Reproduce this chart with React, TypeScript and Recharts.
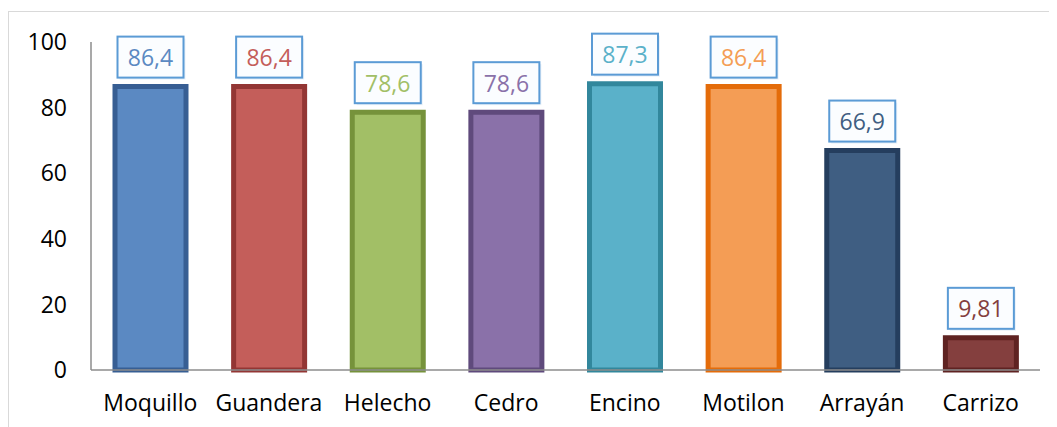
import React from "react";
import { BarChart, Bar, XAxis, YAxis, Cell, LabelList } from "recharts";

const categories = ["Moquillo", "Guandera", "Helecho", "Cedro", "Encino", "Motilon", "Arrayán", "Carrizo"];
const values = [86.4, 86.4, 78.6, 78.6, 87.3, 86.4, 66.9, 9.81];
const valueLabels = ["86,4", "86,4", "78,6", "78,6", "87,3", "86,4", "66,9", "9,81"];
const fills = ["#5b89c2", "#c45e5a", "#a2bf66", "#8a71a9", "#5ab1c9", "#f49d55", "#3f5e82", "#843f3e"];
const strokes = ["#375e93", "#933634", "#76923b", "#5f4a7c", "#32879c", "#e46c0a", "#253e5e", "#5f2322"];
const yTicks = [0, 20, 40, 60, 80, 100];

const data = categories.map((name, i) => ({ name, value: values[i], label: valueLabels[i] }));

const FONT = "Open Sans, sans-serif";

const ValueLabel = (props: any) => {
  const { x, y, width, index } = props;
  const cx = x + width / 2;
  const bw = 66;
  const bh = 41;
  const bottom = y - 9;
  return (
    <g>
      <rect x={cx - bw / 2 + 2} y={bottom - bh + 2} width={bw} height={bh} fill="#dbe8f5" opacity={0.6} />
      <rect x={cx - bw / 2} y={bottom - bh} width={bw} height={bh} fill="#fbfdff" stroke="#5b9bd5" strokeWidth={2} />
      <text x={cx} y={bottom - bh / 2} textAnchor="middle" dominantBaseline="central" fontSize={23} fontFamily={FONT} fill={fills[index]}>
        {valueLabels[index]}
      </text>
    </g>
  );
};

export default function App() {
  return (
    <div style={{ position: "relative", width: 1049, height: 419, overflow: "hidden", background: "#fff" }}>
      <div style={{ position: "absolute", left: 0, top: 3, width: 1060, height: 430, border: "1px solid #d9d9d9", boxSizing: "border-box" }} />
      <BarChart
        width={1049}
        height={419}
        data={data}
        margin={{ top: 34, right: 17, left: 0, bottom: 0 }}
        barCategoryGap={0}
      >
        <XAxis
          dataKey="name"
          height={57}
          tickLine={false}
          axisLine={{ stroke: "#8c8c8c", strokeWidth: 1.5 }}
          tickSize={0}
          tickMargin={25}
          tick={{ fontSize: 23, fontFamily: FONT, fill: "#000" }}
          interval={0}
        />
        <YAxis
          domain={[0, 100]}
          ticks={yTicks}
          tickLine={false}
          axisLine={{ stroke: "#8c8c8c", strokeWidth: 1.5 }}
          tickSize={0}
          tickMargin={24}
          width={83}
          tick={{ fontSize: 23, fontFamily: FONT, fill: "#000" }}
        />
        <Bar dataKey="value" barSize={71} strokeWidth={5} isAnimationActive={false}>
          {data.map((d, i) => (
            <Cell key={d.name} fill={fills[i]} stroke={strokes[i]} />
          ))}
          <LabelList dataKey="label" content={<ValueLabel />} />
        </Bar>
      </BarChart>
    </div>
  );
}
